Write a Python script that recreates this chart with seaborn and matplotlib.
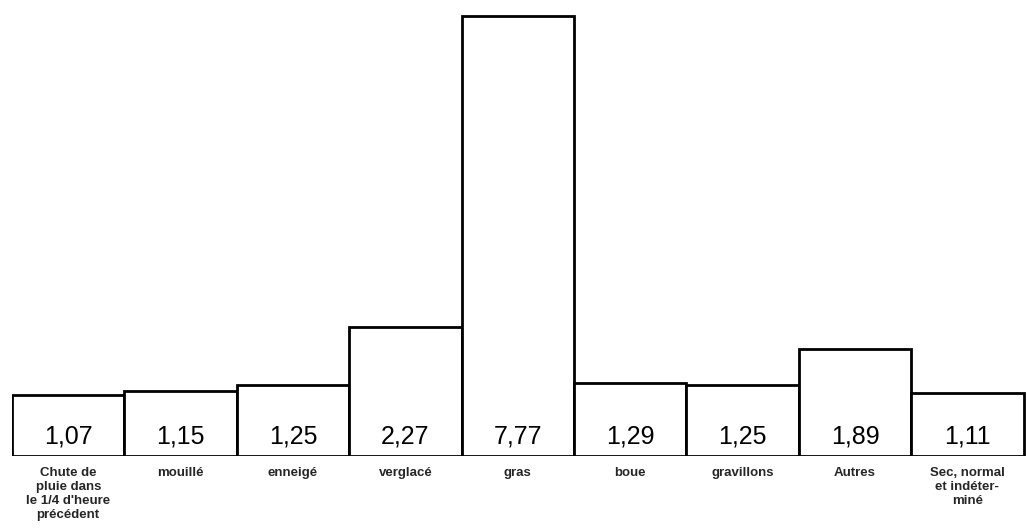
import matplotlib
matplotlib.use("Agg")
import matplotlib.pyplot as plt
import seaborn as sns
import pandas as pd

categories = [
    "Chute de\npluie dans\nle 1/4 d'heure\nprécédent",
    "mouillé",
    "enneigé",
    "verglacé",
    "gras",
    "boue",
    "gravillons",
    "Autres",
    "Sec, normal\net indéter-\nminé",
]
values = [1.07, 1.15, 1.25, 2.27, 7.77, 1.29, 1.25, 1.89, 1.11]

sns.set_style("white")
plt.rcParams["font.family"] = ["Liberation Sans", "DejaVu Sans"]

df = pd.DataFrame({"cat": categories, "val": values})

fig = plt.figure(figsize=(10.27, 5.31), dpi=100)
W, H = 1027, 531
left_px, right_px = 12, 1027
base_px, top_px = 456, 10
ax = fig.add_axes([left_px / W, (H - base_px) / H,
                   (right_px - left_px) / W, (base_px - top_px) / H])

sns.barplot(data=df, x="cat", y="val", color="white", edgecolor="black",
            linewidth=2.0, width=1.0, saturation=1, ax=ax)

ax.set_xlim(-0.5, 8.53)
ax.set_ylim(0, 7.77 * (base_px - top_px) / (base_px - 16))

for i, v in enumerate(values):
    ax.annotate(f"{v:.2f}".replace(".", ","), xy=(i, 0), xytext=(0, 14),
                textcoords="offset points", ha="center", va="center",
                fontsize=18, color="black")

for s in ax.spines.values():
    s.set_visible(False)
ax.set_yticks([])
ax.set_xlabel("")
ax.set_ylabel("")
ax.tick_params(axis="x", length=0, pad=8)
ax.set_xticks(range(len(categories)))
ax.set_xticklabels(categories, fontsize=9.5, fontweight="bold",
                   linespacing=1.2, va="top")

fig.savefig("out.png", dpi=100)
